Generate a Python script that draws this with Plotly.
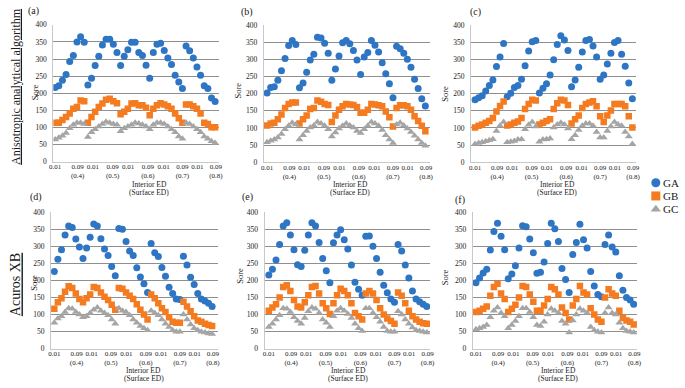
import plotly.graph_objects as go

W, H = 685, 388

# ---------------- data ----------------
series_names = ["GA", "GB", "GC"]
interior_ed = ["0.01", "0.02", "0.03", "0.04", "0.05", "0.06", "0.07", "0.08", "0.09"]
surface_ed = ["(0.4)", "(0.5)", "(0.6)", "(0.7)", "(0.8)"]
panel_labels = ["(a)", "(b)", "(c)", "(d)", "(e)", "(f)"]
row_labels = ["Anisotropic analytical algorithm", "Acuros XB"]

a_GA = [217, 222, 238, 255, 293, 310, 350, 365, 349, 224, 244, 281, 308, 341, 358, 358, 343, 319,
        281, 308, 327, 349, 349, 319, 310, 282, 244, 319, 343, 346, 325, 303, 284, 253, 233, 214,
        338, 324, 303, 277, 253, 222, 214, 186, 176]
a_GB = [114, 114, 122, 131, 141, 155, 160, 179, 177, 114, 131, 146, 160, 170, 181, 184, 177, 171,
        139, 146, 155, 170, 171, 165, 165, 158, 136, 155, 165, 171, 167, 162, 155, 141, 127, 114,
        167, 167, 162, 155, 141, 114, 110, 101, 101]
a_GC = [65, 70, 76, 84, 98, 108, 114, 114, 110, 72, 86, 95, 103, 110, 117, 114, 110, 108,
        89, 98, 103, 108, 114, 112, 108, 103, 95, 108, 114, 114, 110, 103, 95, 86, 74, 67,
        114, 110, 103, 95, 86, 74, 67, 60, 55]

b_GA = [202, 218, 220, 239, 267, 302, 340, 355, 343, 217, 231, 262, 298, 315, 364, 362, 347, 318,
        239, 272, 310, 348, 355, 345, 326, 298, 256, 307, 320, 355, 341, 321, 290, 258, 229, 188,
        338, 331, 318, 300, 277, 242, 215, 185, 164]
b_GB = [107, 113, 115, 125, 139, 158, 170, 174, 174, 113, 125, 136, 155, 158, 180, 176, 170, 167,
        117, 136, 153, 163, 170, 168, 167, 161, 144, 144, 153, 170, 168, 166, 163, 148, 131, 104,
        158, 166, 166, 163, 153, 134, 120, 106, 90]
b_GC = [58, 63, 66, 72, 82, 96, 106, 115, 110, 66, 79, 91, 101, 107, 117, 113, 106, 96,
        75, 87, 98, 106, 113, 107, 101, 91, 85, 96, 106, 117, 113, 106, 94, 79, 66, 56,
        110, 115, 107, 98, 88, 77, 66, 56, 48]

c_GA = [182, 188, 194, 208, 224, 240, 279, 307, 346, 191, 201, 218, 224, 242, 281, 324, 351, 355,
        202, 216, 229, 254, 299, 343, 369, 356, 326, 220, 240, 277, 321, 355, 358, 339, 307, 242,
        254, 286, 318, 349, 355, 315, 280, 231, 185]
c_GB = [101, 106, 110, 115, 120, 129, 148, 164, 177, 107, 110, 115, 119, 129, 155, 170, 182, 180,
        110, 115, 120, 125, 155, 172, 182, 180, 167, 113, 125, 136, 158, 170, 174, 178, 163, 134,
        117, 136, 151, 170, 170, 170, 163, 134, 101]
c_GC = [53, 56, 58, 61, 64, 67, 91, 106, 117, 58, 60, 62, 66, 67, 96, 109, 117, 104,
        60, 66, 67, 69, 101, 110, 115, 110, 98, 67, 79, 94, 106, 113, 113, 106, 88, 72,
        72, 91, 104, 117, 110, 106, 88, 75, 53]

d_GA = [226, 262, 290, 333, 359, 355, 321, 298, 264, 295, 326, 365, 359, 322, 292, 273, 241, 214,
        352, 350, 314, 286, 273, 237, 210, 190, 165, 308, 281, 270, 238, 212, 180, 162, 146, 144,
        271, 245, 209, 188, 162, 146, 140, 133, 124]
d_GB = [117, 136, 148, 167, 183, 178, 162, 146, 136, 148, 159, 181, 178, 165, 152, 143, 129, 114,
        178, 176, 165, 155, 146, 130, 114, 100, 86, 159, 148, 133, 119, 108, 92, 79, 76, 76,
        138, 124, 110, 95, 83, 79, 73, 70, 67]
d_GC = [76, 89, 95, 108, 119, 117, 108, 100, 92, 95, 105, 114, 121, 111, 105, 98, 86, 73,
        119, 111, 108, 98, 86, 76, 67, 60, 54, 111, 105, 98, 86, 73, 64, 54, 50, 50,
        100, 86, 71, 60, 54, 50, 48, 45, 43]

e_GA = [216, 233, 260, 305, 359, 369, 333, 290, 246, 241, 288, 333, 369, 359, 311, 264, 228, 193,
        310, 333, 348, 319, 292, 245, 195, 174, 157, 329, 330, 300, 264, 224, 186, 164, 146, 136,
        305, 286, 245, 207, 169, 146, 138, 130, 124]
e_GB = [111, 121, 130, 150, 181, 186, 169, 143, 124, 121, 136, 157, 181, 184, 162, 133, 119, 102,
        133, 157, 176, 169, 157, 133, 105, 95, 86, 162, 169, 162, 143, 119, 100, 89, 81, 73,
        165, 155, 133, 111, 95, 86, 79, 75, 73]
e_GC = [64, 73, 86, 98, 119, 117, 108, 92, 81, 73, 90, 110, 121, 117, 105, 86, 76, 64,
        95, 111, 119, 111, 102, 90, 73, 60, 52, 119, 119, 105, 92, 79, 64, 52, 50, 50,
        110, 100, 86, 73, 62, 54, 52, 50, 48]

f_GA = [193, 207, 222, 233, 289, 343, 367, 329, 290, 205, 219, 243, 295, 360, 357, 321, 281, 221,
        224, 254, 308, 367, 351, 314, 235, 203, 165, 276, 311, 364, 319, 295, 226, 184, 159, 152,
        305, 333, 298, 283, 214, 171, 150, 143, 130]
f_GB = [108, 111, 117, 124, 155, 181, 190, 162, 146, 108, 117, 129, 150, 184, 181, 159, 138, 111,
        111, 127, 146, 181, 174, 159, 121, 105, 86, 127, 146, 184, 165, 159, 119, 100, 86, 79,
        150, 174, 162, 155, 111, 90, 83, 79, 71]
f_GC = [57, 60, 64, 70, 92, 111, 121, 105, 95, 60, 70, 81, 95, 119, 119, 108, 92, 70,
        67, 79, 100, 117, 111, 105, 81, 73, 48, 83, 100, 117, 111, 105, 64, 54, 50, 48,
        105, 121, 105, 100, 76, 60, 52, 50, 48]

y_ticks = [0, 50, 100, 150, 200, 250, 300, 350, 400]

# ---------------- layout helpers ----------------
panels = [
    (a_GA, a_GB, a_GC), (b_GA, b_GB, b_GC), (c_GA, c_GB, c_GC),
    (d_GA, d_GB, d_GC), (e_GA, e_GB, e_GC), (f_GA, f_GB, f_GC),
]
n_pts = len(interior_ed) * len(surface_ed)
x_index = list(range(n_pts))

# x tick labels (first/last interior ED of each surface ED group)
tick_text = []
for s in surface_ed:
    tick_text += [interior_ed[0], interior_ed[-1] + "<br>" + s]
tick_pos = [0, 6.2, 10.4, 15.8, 20.1, 25.5, 29.8, 35.0, 39.1, 44.2]

# plot-area boxes in pixels: (x0, x1, ytop, ybottom)
boxes = [
    (50, 218, 21.3, 161.5), (263.3, 431.7, 21.5, 162), (473.3, 640.7, 21.5, 162),
    (47.7, 216.7, 213, 353), (264, 431.7, 213, 353), (475, 641.7, 213, 353),
]
x_ranges = [(-0.5, 45.1), (-0.9, 45.3), (-1.1, 45.1), (-0.9, 45.6), (-1.2, 44.9), (-0.9, 45.0)]

colors = {"GA": "#2E75C4", "GB": "#F47B20", "GC": "#A5A5A5"}
symbols = {"GA": "circle", "GB": "square", "GC": "triangle-up"}
sizes = {"GA": 7, "GB": 6.5, "GC": 7}

FONT = "Liberation Serif, Times New Roman, serif"
TXT = "#1a1a1a"


def fx(px):
    return px / W


def fy(py):
    return 1 - py / H


fig = go.Figure()
layout = dict(
    width=W, height=H, margin=dict(l=0, r=0, t=0, b=0),
    paper_bgcolor="white", plot_bgcolor="rgba(0,0,0,0)", showlegend=False,
    font=dict(family=FONT, color=TXT),
)

annotations = []
for i, (vals, box, xr) in enumerate(zip(panels, boxes, x_ranges)):
    k = i + 1
    xa = "x" if k == 1 else f"x{k}"
    ya = "y" if k == 1 else f"y{k}"
    for name, v in zip(series_names, vals):
        fig.add_trace(go.Scatter(
            x=x_index, y=v, mode="markers", name=name, xaxis=xa, yaxis=ya,
            marker=dict(color=colors[name], symbol=symbols[name], size=sizes[name],
                        line=dict(width=0)),
        ))
    x0, x1, yt, yb = box
    layout["xaxis" if k == 1 else f"xaxis{k}"] = dict(
        domain=[fx(x0), fx(x1)], anchor=ya, range=list(xr),
        showgrid=False, zeroline=False, showline=True, linecolor="#c8c8c8", linewidth=1,
        tickmode="array", tickvals=tick_pos, ticktext=tick_text, ticks="", ticklen=0,
        tickfont=dict(family=FONT, size=7, color=TXT), tickangle=0, ticklabelstandoff=-2,
    )
    layout["yaxis" if k == 1 else f"yaxis{k}"] = dict(
        domain=[fy(yb), fy(yt)], anchor=xa, range=[0, 400],
        tickmode="array", tickvals=y_ticks, ticks="", ticklen=0,
        showgrid=True, gridcolor="#8f8f8f", gridwidth=1, zeroline=False,
        showline=True, linecolor="#c8c8c8", linewidth=1,
        tickfont=dict(family=FONT, size=7.5, color=TXT), ticklabelstandoff=4,
    )

# axis titles (two separate lines)
xt_pos = [147, 350.7, 560.7, 141.7, 349, 561.7]
xt_rows = [(184.5, 192.9)] * 3 + [(374.7, 382.9)] * 3
for px, (py1, py2) in zip(xt_pos, xt_rows):
    for txt, py in (("Interior ED", py1), ("(Surface ED)", py2)):
        annotations.append(dict(text=txt, x=fx(px), y=fy(py), xref="paper", yref="paper",
                                showarrow=False, xanchor="center", yanchor="middle",
                                borderpad=0, font=dict(family=FONT, size=7.5, color=TXT)))
sore_pos = [(31.7, 90), (236.7, 89), (446.7, 92), (30.7, 285), (238.3, 278), (446.7, 280)]
for px, py in sore_pos:
    annotations.append(dict(text="Sore", x=fx(px), y=fy(py), xref="paper", yref="paper",
                            showarrow=False, textangle=-90, xanchor="center", yanchor="middle",
                            borderpad=0, font=dict(family=FONT, size=8.5, color=TXT)))
letter_pos = [(30, 7), (246.7, 8), (478, 8), (32, 198), (247, 198), (462, 201)]
for t, (px, py) in zip(panel_labels, letter_pos):
    annotations.append(dict(text=t, x=fx(px), y=fy(py), xref="paper", yref="paper",
                            showarrow=False, xanchor="center", yanchor="middle",
                            borderpad=0, font=dict(family=FONT, size=10, color=TXT)))
# row labels
annotations.append(dict(text="<u>" + row_labels[0] + "</u>", x=fx(12), y=fy(84), xref="paper",
                        yref="paper", showarrow=False, textangle=-90, xanchor="center",
                        yanchor="middle", borderpad=0, font=dict(family=FONT, size=12, color=TXT)))
annotations.append(dict(text="<u>" + row_labels[1] + "</u>", x=fx(12), y=fy(287), xref="paper",
                        yref="paper", showarrow=False, textangle=-90, xanchor="center",
                        yanchor="middle", borderpad=0, font=dict(family=FONT, size=14, color=TXT)))

# manual legend (overlay axis in pixel units)
leg_y = {"GA": 183, "GB": 196.5, "GC": 210}
layout["xaxis7"] = dict(domain=[0, 1], range=[0, W], visible=False, anchor="y7", fixedrange=True)
layout["yaxis7"] = dict(domain=[0, 1], range=[H, 0], visible=False, anchor="x7", fixedrange=True)
for name in series_names:
    fig.add_trace(go.Scatter(x=[660.5], y=[leg_y[name]], mode="markers", xaxis="x7", yaxis="y7",
                             marker=dict(color=colors[name], symbol=symbols[name], size=9),
                             hoverinfo="skip", showlegend=False))
    annotations.append(dict(text=name, x=fx(667), y=fy(leg_y[name]), xref="paper", yref="paper",
                            showarrow=False, xanchor="left", yanchor="middle", borderpad=0,
                            font=dict(family=FONT, size=11, color=TXT)))

layout["annotations"] = annotations
fig.update_layout(**layout)
fig.write_html("out.html", config={"displayModeBar": False},
               post_script="document.body.style.margin='0';document.body.style.overflow='hidden';")
